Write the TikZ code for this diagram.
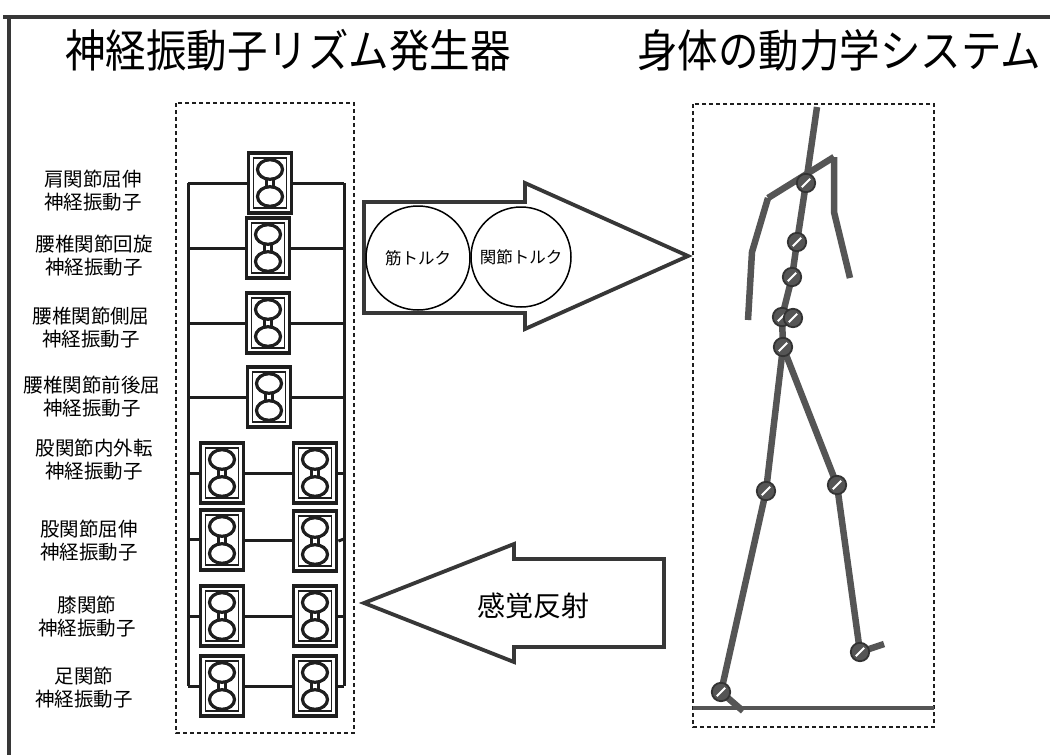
\documentclass[tikz,border=0pt]{standalone}
\usepackage{fontspec}
\setmainfont{Noto Sans CJK JP}
\newfontfamily\titlefont{Noto Sans CJK JP}[FakeStretch=0.9]
\definecolor{ink}{RGB}{30,30,30}
\definecolor{figgray}{RGB}{85,85,85}
\definecolor{arrowgray}{RGB}{55,55,55}
\tikzset{
  frameline/.style={draw=arrowgray, line width=3.5},
  title/.style={font=\titlefont\fontsize{45}{50}\selectfont, inner sep=0},
  lab/.style={font=\fontsize{19.5}{23}\selectfont, align=center, inner sep=0},
  zone/.style={draw=ink, line width=2.2, dash pattern=on 4pt off 3pt},
  osc/.style={draw=ink, line width=3.8, fill=white, minimum width=43, minimum height=60, inner sep=0},
  oval/.style={draw=ink, line width=3.2},
  rail/.style={draw=ink, line width=3},
  bigarrow/.style={draw=arrowgray, line width=3.8, line join=miter, fill=white},
  torq/.style={draw=black, line width=1.5, circle, inner sep=0, font=\fontsize{16.5}{18}\selectfont},
  limb/.style={draw=figgray, line width=6.5, line join=round},
  joint/.style={draw=black!80, line width=1.8, fill=figgray},
}
% one neural oscillator unit: framed box holding two coupled cells
\newcommand\oscunit[3]{%
  \node[osc] (#1) at (#2,#3) {};
  \draw[ink, line width=1.5] ([shift={(-16.5,-25)}]#1.center) rectangle ([shift={(16.5,25)}]#1.center);
  \draw[oval] ([shift={(0,-13.5)}]#1.center) ellipse [x radius=12.5, y radius=9.8];
  \draw[oval] ([shift={(0,13.5)}]#1.center) ellipse [x radius=12.5, y radius=9.8];
  \draw[ink, line width=2.2] ([shift={(-3.5,-3.8)}]#1.center) rectangle ([shift={(3.5,3.8)}]#1.center);
}
% body joint marker: filled disc with a white slash
\newcommand\jointmark[1]{%
  \filldraw[joint] (#1) circle [radius=9.2];
  \draw[white, line width=2] ([shift={(-4.2,4.2)}]#1) -- ([shift={(4.2,-4.2)}]#1);
}
\begin{document}
\begin{tikzpicture}[x=1pt, y=-1pt]
\useasboundingbox (0,0) rectangle (1050,755);
\fill[white] (0,0) rectangle (1050,755);

% outer frame (top and left edges)
\draw[frameline] (3,17) -- (1050,17);
\draw[frameline] (9,15) -- (9,755);

% titles
\node[title] (t1) at (288,50) {神経振動子リズム発生器};
\node[title] (t2) at (839,50) {身体の動力学システム};

% dashed zones
\draw[zone] (176,103) rectangle (354,733);
\draw[zone] (693,104) rectangle (934,727);

% oscillator labels
\node[lab] (l1) at (93,191) {肩関節屈伸\\神経振動子};
\node[lab] (l2) at (94,256) {腰椎関節回旋\\神経振動子};
\node[lab] (l3) at (91,328) {腰椎関節側屈\\神経振動子};
\node[lab] (l4) at (92,397) {腰椎関節前後屈\\神経振動子};
\node[lab] (l5) at (94,460) {股関節内外転\\神経振動子};
\node[lab] (l6) at (89,541) {股関節屈伸\\神経振動子};
\node[lab] (l7) at (87,617) {膝関節\\神経振動子};
\node[lab] (l8) at (84,688) {足関節\\神経振動子};

% rail end points
\coordinate (L1) at (188,183);
\coordinate (L2) at (188,248);
\coordinate (L3) at (188,323);
\coordinate (L4) at (188,397);
\coordinate (L5) at (188,473);
\coordinate (L6) at (188,539);
\coordinate (L7) at (188,616);
\coordinate (L8) at (188,686);
\coordinate (R1) at (344,183);
\coordinate (R2) at (344,248);
\coordinate (R3) at (344,323);
\coordinate (R4) at (344,397);
\coordinate (R5) at (344,473);
\coordinate (R6) at (344,539);
\coordinate (R7) at (344,616);
\coordinate (R8) at (344,686);

% rails
\draw[rail] (L1) -- (L8);
\draw[rail] (R1) -- (R8);

% single oscillators (shoulder and trunk)
\oscunit{u1}{270}{183}
\oscunit{u2}{268}{248}
\oscunit{u3}{268}{323}
\oscunit{u4}{269}{397}
% paired oscillators (left and right leg)
\oscunit{u5a}{222}{473}
\oscunit{u5b}{315}{473}
\oscunit{u6a}{222}{540}
\oscunit{u6b}{315}{541}
\oscunit{u7a}{222}{616}
\oscunit{u7b}{315}{616}
\oscunit{u8a}{222}{686}
\oscunit{u8b}{315}{686}

% links from the rails to each oscillator
\foreach \k in {1,2,3,4} {
  \draw[rail] (L\k) -- (u\k.west);
  \draw[rail] (u\k.east) -- (R\k);
}
\foreach \k in {5,6,7,8} {
  \draw[rail] (L\k) -- (L\k -| u\k a.west);
  \draw[rail] (u\k a.east) -- (u\k a.east -| u\k b.west);
  \draw[rail] (u\k b.east) -- (R\k);
}

% torque arrow
\draw[bigarrow] (364,202) -- (525,202) -- (525,183) -- (688,256) -- (525,329) -- (525,313) -- (364,313) -- cycle;
\node[torq, minimum size=104] (mt) at (418,258) {筋トルク};
\node[torq, minimum size=100] (jt) at (521,257) {関節トルク};

% sensory reflex arrow
\draw[bigarrow] (364,603) -- (514,544) -- (514,559) -- (664,559) -- (664,647) -- (514,647) -- (514,662) -- cycle;
\node[font=\fontsize{28}{30}\selectfont, inner sep=0] (sr) at (533,606) {感覚反射};

% stick figure
\coordinate (head) at (817,107);
\coordinate (sh) at (806,183);
\coordinate (shl) at (768,198);
\coordinate (shr) at (834,157);
\coordinate (elbl) at (752,252);
\coordinate (hndl) at (748,320);
\coordinate (elbr) at (834,212);
\coordinate (hndr) at (850,278);
\coordinate (sp1) at (797,242);
\coordinate (sp2) at (792,277);
\coordinate (sp3a) at (782,317);
\coordinate (sp3b) at (793,318);
\coordinate (hip) at (783,347);
\coordinate (kneel) at (766,491);
\coordinate (ankl) at (721,692);
\coordinate (toel) at (743,711);
\coordinate (kneer) at (837,485);
\coordinate (ankr) at (860,652);
\coordinate (toer) at (884,644);

\draw[draw=figgray, line width=3.2] (693,708) -- (934,708);
\draw[limb] (head) -- (sh) -- (sp1) -- (sp2) -- (sp3a) -- (hip);
\draw[limb] (shl) -- (shr);
\draw[limb] (shl) -- (elbl) -- (hndl);
\draw[limb] (shr) -- (elbr) -- (hndr);
\draw[limb] (hip) -- (kneel) -- (ankl) -- (toel);
\draw[limb] (hip) -- (kneer) -- (ankr) -- (toer);
\foreach \j in {sh,sp1,sp2,sp3a,sp3b,hip,kneel,ankl,kneer,ankr} { \jointmark{\j} }

\end{tikzpicture}
\end{document}
